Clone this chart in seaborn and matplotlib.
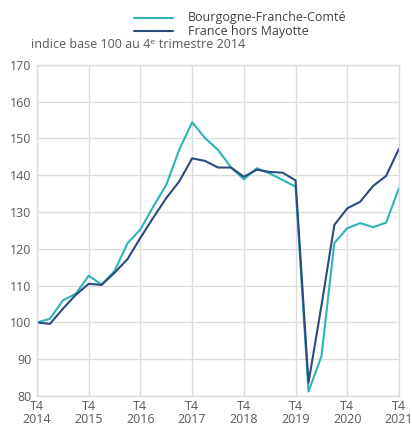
import matplotlib
matplotlib.use("Agg")
import matplotlib.pyplot as plt
import seaborn as sns
import pandas as pd

# quarterly index, T4 2014 = 100
quarters = list(range(29))
bfc = [100, 101, 106, 107.8, 112.7, 110.3, 114, 121.5, 125.3,
       131.5, 137.4, 146.9, 154.4, 150.1, 146.9, 142.2, 138.9,
       141.9, 140.5, 138.7, 136.9, 81.2, 90.8, 121.6, 125.6,
       127, 125.9, 127.1, 136.5]
france = [100, 99.6, 103.7, 107.5, 110.5, 110.2, 113.5, 117.2, 123,
          128.5, 133.8, 138.3, 144.6, 143.9, 142.1, 142.1, 139.6,
          141.5, 140.9, 140.7, 138.6, 83.6, 104.5, 126.5, 131,
          132.8, 137.1, 139.8, 147.2]
tick_pos = [0, 4, 8, 12, 16, 20, 24, 28]
tick_labels = ["T4\n2014", "T4\n2015", "T4\n2016", "T4\n2017",
               "T4\n2018", "T4\n2019", "T4\n2020", "T4\n2021"]
series_names = ["Bourgogne-Franche-Comté", "France hors Mayotte"]

df = pd.DataFrame({
    "trimestre": quarters * 2,
    "indice": bfc + france,
    "zone": [series_names[0]] * len(bfc) + [series_names[1]] * len(france),
})

sns.set_theme(style="white")
plt.rcParams["font.family"] = ["Open Sans", "DejaVu Sans"]

grid_col = "#dcdcdc"
text_col = "#595959"
colors = {series_names[0]: "#2fb3b6", series_names[1]: "#2b4b7e"}

fig = plt.figure(figsize=(4.12, 4.24), dpi=100)
ax = fig.add_axes([0.0898, 0.066, 0.8786, 0.781])

sns.lineplot(data=df, x="trimestre", y="indice", hue="zone",
             palette=colors, linewidth=1.5, ax=ax, legend=False)

ax.set_xlim(0, 28)
ax.set_ylim(80, 170)
ax.set_yticks(range(80, 171, 10))
ax.set_xticks(tick_pos)
ax.set_xticklabels(tick_labels, linespacing=0.95)
ax.set_xlabel("")
ax.set_ylabel("")
ax.tick_params(axis="both", length=0, labelsize=9, labelcolor=text_col)
ax.tick_params(axis="x", pad=3)
ax.tick_params(axis="y", pad=4)
ax.grid(True, color=grid_col, linewidth=1)
ax.set_axisbelow(True)
for sp in ax.spines.values():
    sp.set_color(grid_col)
    sp.set_linewidth(1)

# legend drawn above the plot
for i, name in enumerate(series_names):
    y = 1 - (18 + 13 * i) / 424
    fig.add_artist(plt.Line2D([134 / 412, 173 / 412], [y, y],
                              color=colors[name], linewidth=1.5))
    fig.text(188 / 412, y, name, fontsize=9, color="#404040", va="center")

fig.text(31 / 412, 1 - 45 / 424, "indice base 100 au 4ᵉ trimestre 2014",
         fontsize=9, color=text_col, va="center")

fig.savefig("out.png", dpi=100)
